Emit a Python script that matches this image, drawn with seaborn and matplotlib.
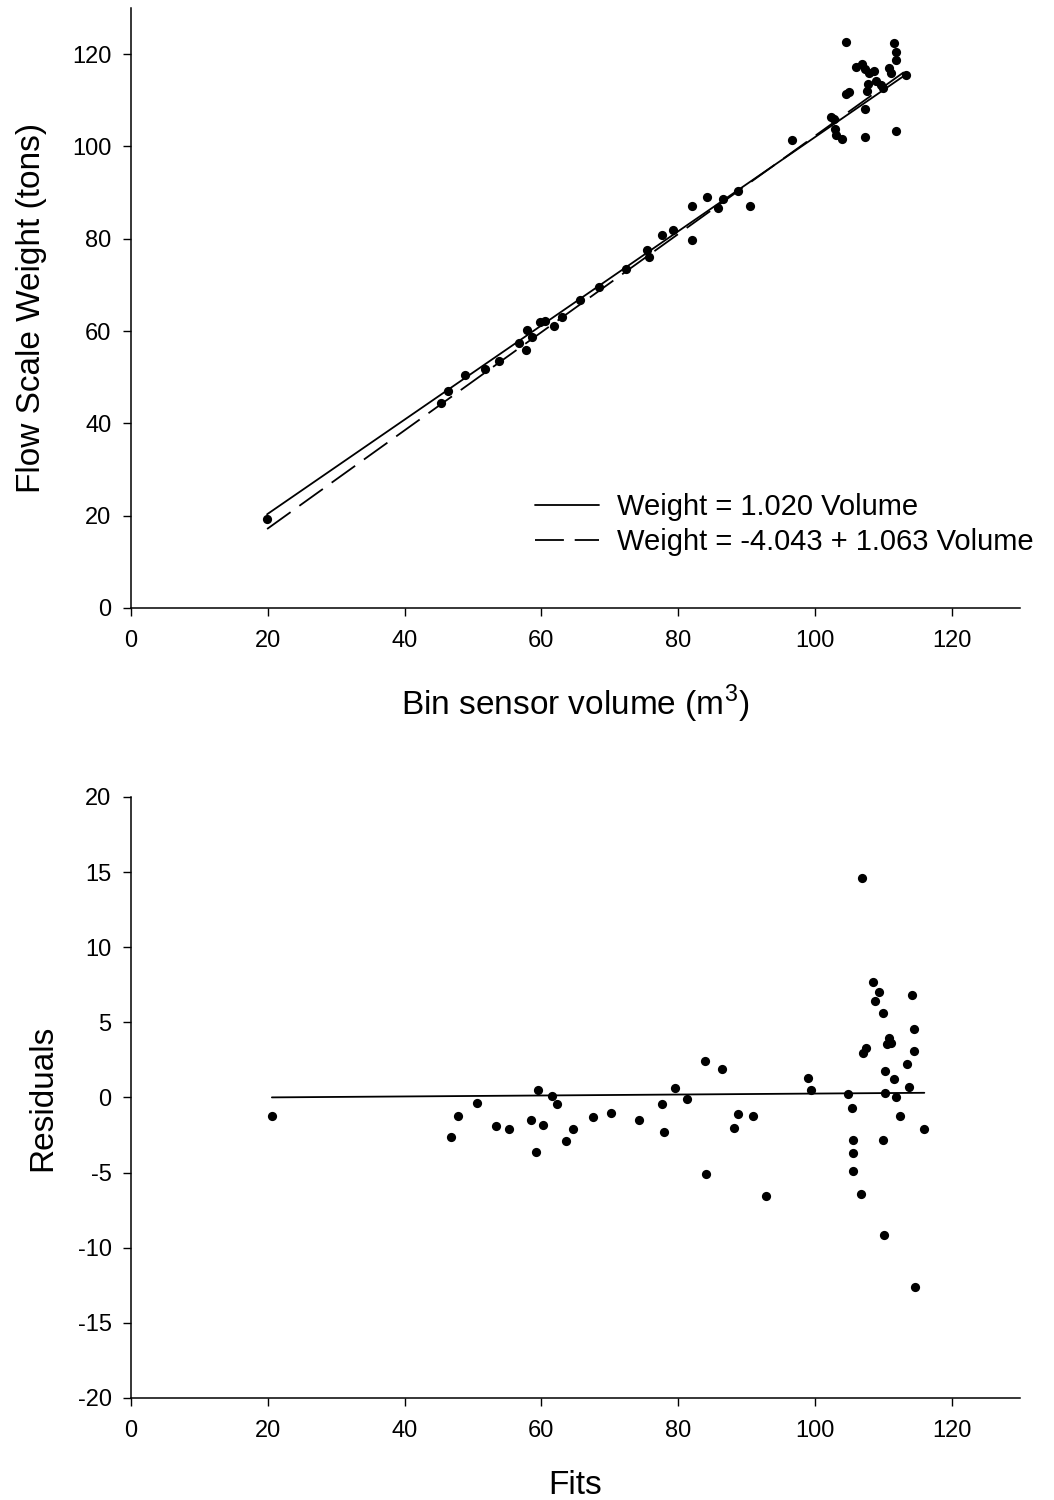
import numpy as np
import pandas as pd
import matplotlib
matplotlib.use("Agg")
import matplotlib.pyplot as plt
import seaborn as sns

# Bin sensor volume (m^3) vs. flow scale weight (tons)
volume = [19.9, 45.4, 46.4, 48.9, 51.8, 53.8, 56.8, 57.7, 57.9, 58.6,
          59.8, 60.6, 61.9, 63.0, 65.6, 68.5, 72.4, 75.4, 75.8, 77.6,
          79.3, 82.0, 82.0, 84.2, 85.9, 86.6, 88.8, 90.5, 96.7, 102.3,
          102.8, 103.0, 103.1, 104.0, 104.5, 105.0, 104.5, 106.0, 106.9, 107.3,
          107.9, 108.6, 110.8, 111.1, 113.3, 109.0, 109.6, 109.9, 107.8, 107.6,
          107.3, 107.3, 111.8, 111.5, 111.8, 111.8]
weight = [19.3, 44.3, 46.9, 50.4, 51.7, 53.6, 57.5, 55.8, 60.3, 58.7,
          62.0, 62.2, 61.0, 63.0, 66.7, 69.6, 73.4, 77.6, 76.0, 80.9,
          81.9, 87.1, 79.7, 89.0, 86.7, 88.5, 90.4, 87.1, 101.4, 106.3,
          105.9, 103.7, 102.4, 101.5, 111.3, 111.8, 122.7, 117.1, 117.8, 116.7,
          116.0, 116.4, 116.9, 115.9, 115.4, 114.1, 113.3, 112.6, 113.6, 112.0,
          108.2, 102.1, 103.3, 122.4, 120.5, 118.8]

# Regression fits
fit_origin_slope = 1.020
fit_intercept, fit_slope = -4.043, 1.063

# Fitted values vs. residuals
fits = [20.6, 46.8, 47.8, 50.6, 53.4, 55.3, 58.5, 59.2, 59.5, 60.2,
        61.6, 62.3, 63.6, 64.7, 67.5, 70.2, 74.3, 77.6, 77.9, 79.6,
        81.3, 84.0, 84.1, 86.4, 88.2, 88.8, 90.9, 92.9, 99.0, 99.4,
        106.9, 108.5, 109.4, 108.8, 114.2, 110.0, 114.5, 110.8, 110.6, 111.2,
        107.4, 107.0, 114.5, 113.5, 110.2, 111.6, 113.7, 104.8, 110.3, 111.9,
        105.4, 112.5, 116.0, 105.5, 110.0, 105.5, 105.5, 106.8, 110.1, 114.7]
residuals = [-1.2, -2.65, -1.25, -0.4, -1.93, -2.13, -1.47, -3.65, 0.51, -1.85,
             0.11, -0.46, -2.89, -2.07, -1.27, -1.0, -1.49, -0.45, -2.33, 0.65,
             -0.13, 2.4, -5.09, 1.91, -2.05, -1.13, -1.25, -6.53, 1.29, 0.47,
             14.58, 7.67, 7.02, 6.42, 6.85, 5.6, 4.55, 3.98, 3.58, 3.62,
             3.29, 2.98, 3.09, 2.2, 1.78, 1.25, 0.71, 0.24, 0.33, 0.0,
             -0.69, -1.24, -2.11, -2.84, -2.84, -3.67, -4.89, -6.42, -9.15, -12.6]
resid_trend_intercept, resid_trend_slope = -0.06, 0.0032

x_ticks = [0, 20, 40, 60, 80, 100, 120]
top_y_ticks = [0, 20, 40, 60, 80, 100, 120]
bottom_y_ticks = [-20, -15, -10, -5, 0, 5, 10, 15, 20]

sns.set_theme(style="ticks")
plt.rcParams["font.family"] = ["Liberation Sans", "DejaVu Sans"]
plt.rcParams["mathtext.fontset"] = "custom"
plt.rcParams["mathtext.rm"] = "Liberation Sans"
plt.rcParams["axes.unicode_minus"] = False
plt.rcParams["text.color"] = "black"
plt.rcParams["axes.labelcolor"] = "black"

fig = plt.figure(figsize=(10.54, 15), dpi=100)
ax1 = fig.add_axes([0.1243, 0.5947, 0.8435, 0.4000])
ax2 = fig.add_axes([0.1243, 0.0680, 0.8435, 0.4007])

tick_fs = 17
label_fs = 24
dot_size = 44

# ---- Top panel: weight vs volume ----
df = pd.DataFrame({"volume": volume, "weight": weight})
sns.scatterplot(data=df, x="volume", y="weight", ax=ax1, color="black",
                s=dot_size, linewidth=0, legend=False, zorder=3)

xs = np.array([min(volume), max(volume)])
sns.lineplot(x=xs, y=fit_origin_slope * xs, ax=ax1, color="black", lw=1.3,
             label="Weight = 1.020 Volume")
sns.lineplot(x=xs, y=fit_intercept + fit_slope * xs, ax=ax1, color="black",
             lw=1.3, linestyle=(0, (16, 6)),
             label="Weight = -4.043 + 1.063 Volume")

handles, labels = ax1.get_legend_handles_labels()
leg = ax1.legend(handles, labels, frameon=False, fontsize=21, loc="upper left",
                 bbox_to_anchor=(0.4544, 0.192), borderpad=0, borderaxespad=0,
                 handlelength=2.2, handletextpad=0.6, labelspacing=0.25)
for t in leg.get_texts():
    t.set_color("black")

ax1.set_xlim(0, 130)
ax1.set_ylim(0, 130)
ax1.set_xticks(x_ticks)
ax1.set_yticks(top_y_ticks)
ax1.set_xlabel("Bin sensor volume (m$^3$)", fontsize=label_fs, labelpad=22)
ax1.set_ylabel("Flow Scale Weight (tons)", fontsize=label_fs, labelpad=18)

# ---- Bottom panel: residuals vs fits ----
rdf = pd.DataFrame({"fits": fits, "residuals": residuals})
sns.scatterplot(data=rdf, x="fits", y="residuals", ax=ax2, color="black",
                s=dot_size, linewidth=0, legend=False, zorder=3)
fx = np.array([min(fits), max(fits)])
sns.lineplot(x=fx, y=resid_trend_intercept + resid_trend_slope * fx, ax=ax2,
             color="black", lw=1.3)

ax2.set_xlim(0, 130)
ax2.set_ylim(-20, 20)
ax2.set_xticks(x_ticks)
ax2.set_yticks(bottom_y_ticks)
ax2.set_xlabel("Fits", fontsize=label_fs, labelpad=20)
ax2.set_ylabel("Residuals", fontsize=label_fs, labelpad=14)

for ax in (ax1, ax2):
    sns.despine(ax=ax)
    ax.tick_params(axis="both", labelsize=tick_fs, length=6, width=1.0,
                   color="black", labelcolor="black", direction="out")
    ax.tick_params(axis="x", pad=10)
    ax.tick_params(axis="y", pad=8)
    for sp in ("left", "bottom"):
        ax.spines[sp].set_color("black")
        ax.spines[sp].set_linewidth(1.1)
    ax.grid(False)
    ax.set_facecolor("white")

fig.savefig("out.png", dpi=100, facecolor="white")
